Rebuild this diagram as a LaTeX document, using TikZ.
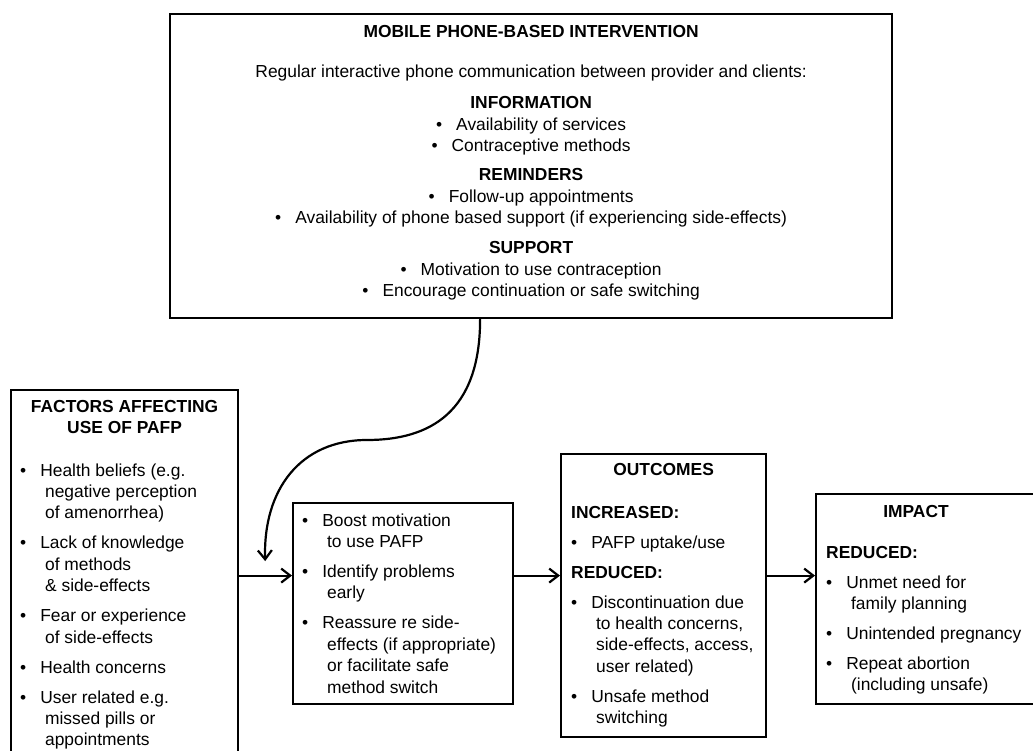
\documentclass[tikz,border=0pt]{standalone}
\usepackage{fontspec}
\setmainfont{Liberation Sans}
\usetikzlibrary{arrows.meta}
\newcommand{\dotitem}{•\hspace{14pt}}

\begin{document}
\begin{tikzpicture}[x=1pt, y=-1pt,
        box/.style={draw, line width=2.2pt, inner sep=0pt, anchor=north west},
        txt/.style={inner sep=0pt, font=\fontsize{17.4}{21.4}\selectfont},
        link/.style={line width=2.2pt, -{Straight Barb[length=9pt,width=14pt]}}]
    \useasboundingbox (0,0) rectangle (1033,751);
    \clip (0,0) rectangle (1033,751);

    \node[box, minimum width=722pt, minimum height=304pt] (mobile) at (169,13) {};
    \node[txt, anchor=base] (mobiletext) at ([yshift=-25pt]mobile.north) {\begin{tabular}[t]{@{}c@{}}
        \textbf{MOBILE PHONE-BASED INTERVENTION}\\[18.6pt]
        Regular interactive phone communication between provider and clients:\\[9.6pt]
        \textbf{INFORMATION}\\
        \dotitem Availability of services\\
        \dotitem Contraceptive methods\\[7.8pt]
        \textbf{REMINDERS}\\
        \dotitem Follow-up appointments\\
        \dotitem Availability of phone based support (if experiencing side-effects)\\[8.8pt]
        \textbf{SUPPORT}\\
        \dotitem Motivation to use contraception\\
        \dotitem Encourage continuation or safe switching
    \end{tabular}};

    \node[box, minimum width=227pt, minimum height=371pt] (factors) at (10,389) {};
    \node[txt, anchor=base] (factorshead) at ([yshift=-23pt]factors.north) {\begin{tabular}[t]{@{}c@{}}
        \textbf{FACTORS AFFECTING}\\
        \textbf{USE OF PAFP}
    \end{tabular}};
    \node[txt, anchor=base west] (factorslist) at ([xshift=10pt, yshift=-87pt]factors.north west) {\begin{tabular}[t]{@{}l@{\hspace{14pt}}l@{}}
        • & Health beliefs (e.g.\\
          & \ negative perception\\
          & \ of amenorrhea)\\[8.6pt]
        • & Lack of knowledge\\
          & \ of methods\\
          & \ \& side-effects\\[8.6pt]
        • & Fear or experience\\
          & \ of side-effects\\[8.6pt]
        • & Health concerns\\[8.6pt]
        • & User related e.g.\\
          & \ missed pills or\\
          & \ appointments
    \end{tabular}};

    \node[box, minimum width=220pt, minimum height=201pt] (middle) at (292,502) {};
    \node[txt, anchor=base west] (middlelist) at ([xshift=10pt, yshift=-24pt]middle.north west) {\begin{tabular}[t]{@{}l@{\hspace{14pt}}l@{}}
        • & Boost motivation\\
          & \ to use PAFP\\[8.6pt]
        • & Identify problems\\
          & \ early\\[8.6pt]
        • & Reassure re side-\\
          & \ effects (if appropriate)\\
          & \ or facilitate safe\\
          & \ method switch
    \end{tabular}};

    \node[box, minimum width=205pt, minimum height=283pt] (outcomes) at (560,453) {};
    \node[txt, anchor=base] (outcomeshead) at ([yshift=-22pt]outcomes.north) {\textbf{OUTCOMES}};
    \node[txt, anchor=base west] (outcomeslist) at ([xshift=11pt, yshift=-65pt]outcomes.north west) {\begin{tabular}[t]{@{}l@{\hspace{14pt}}l@{}}
        \multicolumn{2}{@{}l@{}}{\textbf{INCREASED:}}\\[8.6pt]
        • & PAFP uptake/use\\[8.6pt]
        \multicolumn{2}{@{}l@{}}{\textbf{REDUCED:}}\\[8.6pt]
        • & Discontinuation due\\
          & \ to health concerns,\\
          & \ side-effects, access,\\
          & \ user related)\\[8.6pt]
        • & Unsafe method\\
          & \ switching
    \end{tabular}};

    \node[box, minimum width=225pt, minimum height=210pt] (impact) at (815,493) {};
    \node[txt, anchor=base] (impacthead) at ([xshift=101pt, yshift=-24pt]impact.north west) {\textbf{IMPACT}};
    \node[txt, anchor=base west] (impactlist) at ([xshift=11pt, yshift=-65pt]impact.north west) {\begin{tabular}[t]{@{}l@{\hspace{14pt}}l@{}}
        \multicolumn{2}{@{}l@{}}{\textbf{REDUCED:}}\\[8.6pt]
        • & Unmet need for\\
          & \ family planning\\[8.6pt]
        • & Unintended pregnancy\\[8.6pt]
        • & Repeat abortion\\
          & \ (including unsafe)
    \end{tabular}};

    \draw[link] (factors.east) -- (factors.east -| middle.west);
    \draw[link] (factors.east -| middle.east) -- (factors.east -| outcomes.west);
    \draw[link] (factors.east -| outcomes.east) -- (factors.east -| impact.west);

    \coordinate (curveend) at ([xshift=26pt, yshift=14.5pt]factors.east);
    \draw[link] ([xshift=-51pt]mobile.south) .. controls +(0,93) and (430,440) .. (367,440)
        .. controls (300,440) and (263,490) .. (curveend);
\end{tikzpicture}
\end{document}
